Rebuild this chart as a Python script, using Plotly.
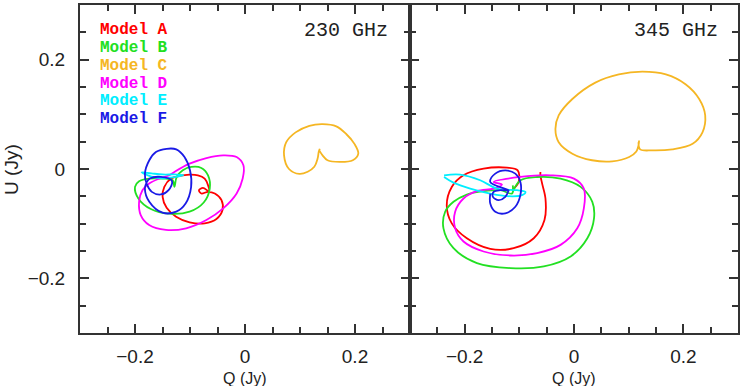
import plotly.graph_objects as go

# ---------------- data (Q, U in Jy) ----------------
models = ["Model A", "Model B", "Model C", "Model D", "Model E", "Model F"]
colors = ["#ff0000", "#22e022", "#f5b623", "#ff00ff", "#00eeff", "#1a1ae6"]

# 230 GHz panel
a230_q = [-0.1345, -0.1467, -0.1498, -0.1425, -0.1253, -0.1008, -0.0733, -0.0519, -0.0409, -0.0427, -0.0549, -0.0672, -0.0794, -0.0837, -0.0764, -0.0654, -0.0672, -0.0733, -0.0856, -0.1008, -0.1192, -0.1345]
a230_u = [-0.0175, -0.0327, -0.0509, -0.0709, -0.0872, -0.0975, -0.0994, -0.0915, -0.0751, -0.0569, -0.0448, -0.0418, -0.0448, -0.0388, -0.0345, -0.0406, -0.0297, -0.0175, -0.0115, -0.0103, -0.0127, -0.0175]
b230_q = [-0.1284, -0.1314, -0.1498, -0.1743, -0.1926, -0.2000, -0.1939, -0.1712, -0.1376, -0.1008, -0.0751, -0.0641, -0.0672, -0.0794, -0.0978, -0.1131, -0.1241, -0.1284]
b230_u = [-0.0327, -0.0206, -0.0175, -0.0175, -0.0224, -0.0327, -0.0539, -0.0733, -0.0818, -0.0781, -0.0612, -0.0357, -0.0115, 0.0019, 0.0037, -0.0024, -0.0145, -0.0327]
c230_q = [0.135, 0.141, 0.150, 0.172, 0.196, 0.206, 0.199, 0.184, 0.166, 0.141, 0.117, 0.092, 0.075, 0.071, 0.080, 0.099, 0.114, 0.126, 0.132, 0.134, 0.136]
c230_u = [0.034, 0.025, 0.016, 0.013, 0.016, 0.028, 0.046, 0.064, 0.078, 0.082, 0.079, 0.067, 0.049, 0.025, 0.000, -0.009, -0.005, 0.004, 0.019, 0.031, 0.037]
d230_q = [-0.1284, -0.1008, -0.0702, -0.0396, -0.0152, -0.0029, -0.0042, -0.0152, -0.0396, -0.0702, -0.1070, -0.1437, -0.1743, -0.1896, -0.1926, -0.1865, -0.1743, -0.1559, -0.1376, -0.1284]
d230_u = [-0.0054, 0.0097, 0.0200, 0.0249, 0.0218, 0.0067, -0.0175, -0.0448, -0.0721, -0.0933, -0.1084, -0.1115, -0.1024, -0.0842, -0.0600, -0.0388, -0.0266, -0.0175, -0.0115, -0.0054]
e230_q = [-0.188, -0.170, -0.150, -0.128, -0.112, -0.128, -0.150, -0.170, -0.188]
e230_u = [-0.006, -0.008, -0.010, -0.010, -0.011, -0.015, -0.017, -0.014, -0.006]
f230_q = [-0.1327, -0.139, -0.153, -0.1694, -0.1786, -0.182, -0.174, -0.162, -0.1425, -0.125, -0.110, -0.100, -0.098, -0.108, -0.125, -0.150, -0.174, -0.182, -0.1786, -0.173, -0.153, -0.1327]
f230_u = [-0.022, -0.0387, -0.0466, -0.0418, -0.0278, -0.0085, 0.016, 0.031, 0.037, 0.036, 0.022, -0.0024, -0.033, -0.063, -0.078, -0.080, -0.060, -0.036, -0.024, -0.0175, -0.0145, -0.022]

# 345 GHz panel
a345_q = [-0.1134, -0.1012, -0.103, -0.1226, -0.1654, -0.2022, -0.2236, -0.2328, -0.2236, -0.196, -0.1532, -0.1104, -0.0736, -0.054, -0.0522, -0.0583, -0.0614, -0.0614]
a345_u = [-0.0388, -0.0237, -0.0025, 0.0024, 0.0006, -0.0115, -0.0328, -0.0661, -0.0994, -0.1267, -0.1461, -0.1449, -0.1267, -0.0934, -0.054, -0.0267, -0.0115, -0.0055]
b345_q = [-0.1133, -0.098, -0.0674, -0.0246, 0.0121, 0.0335, 0.0366, 0.0244, -0.0062, -0.0552, -0.1164, -0.1776, -0.2204, -0.2388, -0.2357, -0.2204, -0.196, -0.1654, -0.1348, -0.1133, -0.112]
b345_u = [-0.0449, -0.0207, -0.0146, -0.0176, -0.0327, -0.060, -0.0903, -0.1267, -0.160, -0.1782, -0.1812, -0.1721, -0.1448, -0.1085, -0.0782, -0.060, -0.0467, -0.0406, -0.0388, -0.0449, -0.030]
c345_q = [0.118, 0.121, 0.143, 0.180, 0.217, 0.235, 0.240, 0.229, 0.204, 0.168, 0.125, 0.082, 0.039, -0.003, -0.028, -0.034, -0.028, -0.003, 0.033, 0.070, 0.101, 0.114, 0.118, 0.119]
c345_u = [0.049, 0.036, 0.034, 0.036, 0.046, 0.067, 0.098, 0.128, 0.155, 0.173, 0.178, 0.173, 0.158, 0.128, 0.098, 0.073, 0.049, 0.028, 0.016, 0.014, 0.022, 0.032, 0.043, 0.052]
d345_q = [-0.147, -0.098, -0.043, -0.0001, 0.018, 0.018, 0.006, -0.0246, -0.0674, -0.1164, -0.1654, -0.2021, -0.2174, -0.2174, -0.2021, -0.1776, -0.147, -0.1317, -0.147]
d345_u = [-0.0236, -0.0146, -0.0115, -0.0176, -0.0358, -0.0721, -0.1085, -0.1388, -0.1539, -0.1582, -0.1509, -0.1327, -0.1085, -0.0782, -0.054, -0.0406, -0.0358, -0.0285, -0.0236]
e345_q = [-0.2377, -0.2083, -0.1716, -0.141, -0.1042, -0.0889, -0.095, -0.1226, -0.1532, -0.1899, -0.2205, -0.2377]
e345_u = [-0.0115, -0.0103, -0.0206, -0.0358, -0.0388, -0.0418, -0.0479, -0.0497, -0.0449, -0.0358, -0.0249, -0.0146]
f345_q = [-0.1195, -0.1257, -0.1379, -0.1483, -0.1471, -0.1348, -0.1195, -0.1532, -0.144, -0.1257, -0.1073, -0.0981, -0.0981, -0.1073, -0.1257, -0.144, -0.1532, -0.1532]
f345_u = [-0.0388, -0.0509, -0.057, -0.0509, -0.0418, -0.0388, -0.0388, -0.0237, -0.0085, -0.0025, -0.0085, -0.0237, -0.0479, -0.0691, -0.0812, -0.0782, -0.0631, -0.0449]

panel_labels = ["230 GHz", "345 GHz"]
x_ticks = [-0.2, 0, 0.2]
y_ticks = [-0.2, 0, 0.2]

series230 = [(a230_q, a230_u), (b230_q, b230_u), (c230_q, c230_u), (d230_q, d230_u), (e230_q, e230_u), (f230_q, f230_u)]
series345 = [(a345_q, a345_u), (b345_q, b345_u), (c345_q, c345_u), (d345_q, d345_u), (e345_q, e345_u), (f345_q, f345_u)]

# ---------------- figure ----------------
fig = go.Figure()
for i, (q, u) in enumerate(series230):
    fig.add_trace(go.Scatter(x=q, y=u, mode="lines", xaxis="x", yaxis="y",
                             line=dict(color=colors[i], width=1.8, shape="spline", smoothing=1.0),
                             showlegend=False, name=models[i]))
for i, (q, u) in enumerate(series345):
    fig.add_trace(go.Scatter(x=q, y=u, mode="lines", xaxis="x2", yaxis="y2",
                             line=dict(color=colors[i], width=1.8, shape="spline", smoothing=1.0),
                             showlegend=False, name=models[i]))

split = 330 / 658
frame = "#333333"
tickfont = dict(family="Liberation Sans, Arial, sans-serif", size=19, color="#222")
common = dict(range=[-0.3, 0.3], showgrid=False, zeroline=False, showline=True,
              linecolor=frame, linewidth=2, mirror="ticks", ticks="inside",
              ticklen=9, tickwidth=1.5, tickcolor=frame,
              tickvals=x_ticks, ticktext=["\u22120.2", "0", "0.2"],
              minor=dict(dtick=0.05, tick0=0, ticks="inside", ticklen=6, tickwidth=1.5, tickcolor=frame),
              tickfont=tickfont)

fig.update_layout(
    width=744, height=386,
    margin=dict(l=80, r=6, t=3, b=53),
    paper_bgcolor="white", plot_bgcolor="white",
    xaxis=dict(domain=[0, split], anchor="y", ticklabelstandoff=5, **common),
    xaxis2=dict(domain=[split, 1], anchor="y2", ticklabelstandoff=5, **common),
    yaxis=dict(domain=[0, 1], anchor="x", ticklabelstandoff=9, **common),
    yaxis2=dict(domain=[0, 1], anchor="x2", showticklabels=False, **common),
)

ann = []
# axis titles
for xc in [0.251, 0.751]:
    ann.append(dict(text="Q (Jy)", xref="paper", yref="paper", x=xc, y=-0.106,
                    xanchor="center", yanchor="top", showarrow=False,
                    font=dict(family="Liberation Sans, Arial, sans-serif", size=16, color="#222")))
ann.append(dict(text="U (Jy)", xref="paper", yref="paper", x=-0.105, y=0.5,
                xanchor="center", yanchor="middle", textangle=-90, showarrow=False,
                font=dict(family="Liberation Sans, Arial, sans-serif", size=19, color="#222")))
# panel labels
for lab, xr in zip(panel_labels, [0.471, 0.9726]):
    ann.append(dict(text=lab, xref="paper", yref="paper", x=xr, y=0.921,
                    xanchor="right", yanchor="middle", showarrow=False,
                    font=dict(family="Liberation Mono, Courier New, monospace", size=20, color="#222")))
# model legend text
for i, m in enumerate(models):
    ypix = 28 + i * 18
    ann.append(dict(text="<b>" + m + "</b>", xref="paper", yref="paper", x=18 / 658, y=(330 - ypix + 3) / 330,
                    xanchor="left", yanchor="middle", showarrow=False,
                    font=dict(family="Liberation Mono, Courier New, monospace", size=16, color=colors[i])))
fig.update_layout(annotations=ann)

fig.write_html("out.html")
